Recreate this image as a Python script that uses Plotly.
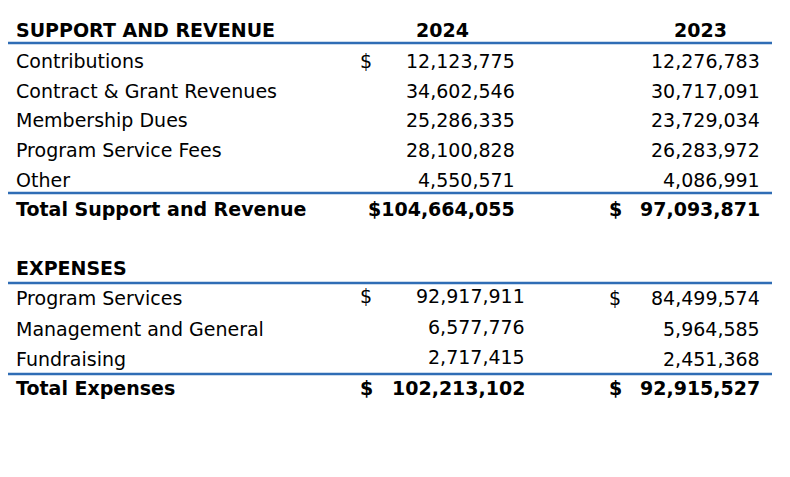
import plotly.graph_objects as go

years = ["2024", "2023"]
rev_labels = ["Contributions", "Contract & Grant Revenues", "Membership Dues", "Program Service Fees", "Other"]
rev_2024 = [12123775, 34602546, 25286335, 28100828, 4550571]
rev_2023 = [12276783, 30717091, 23729034, 26283972, 4086991]
rev_total = [104664055, 97093871]
exp_labels = ["Program Services", "Management and General", "Fundraising"]
exp_2024 = [92917911, 6577776, 2717415]
exp_2023 = [84499574, 5964585, 2451368]
exp_total = [102213102, 92915527]

FONT = "DejaVu Sans"
FS = 19
BLUE = "#2f6db5"
OFF = 8  # page body margin
fig = go.Figure()
ann = []

def t(x, y, s, anchor="left", bold=False):
    ann.append(dict(x=x - OFF, y=y - OFF, xref="x", yref="y", text=f"<b>{s}</b>" if bold else s,
                    showarrow=False, xanchor=anchor, yanchor="middle",
                    font=dict(family=FONT, size=FS, color="black")))

fmt = lambda v: f"{v:,}"

t(14, 30, "SUPPORT AND REVENUE", bold=True)
t(442, 30, years[0], "center", True)
t(700, 30, years[1], "center", True)
ys = [61, 91, 120, 150, 180]
for i, (lab, a, b) in enumerate(zip(rev_labels, rev_2024, rev_2023)):
    t(14, ys[i], lab)
    t(517, ys[i], fmt(a), "right")
    t(762, ys[i], fmt(b), "right")
    if i == 0:
        t(358, ys[i], "$")
t(14, 209, "Total Support and Revenue", bold=True)
t(517, 209, "$" + fmt(rev_total[0]), "right", True)
t(762, 209, fmt(rev_total[1]), "right", True)
t(607, 209, "$", bold=True)

t(14, 268, "EXPENSES", bold=True)
ye = [296, 327, 357]
for i, (lab, a, b) in enumerate(zip(exp_labels, exp_2024, exp_2023)):
    t(14, ye[i] + 2, lab)
    t(527, ye[i], fmt(a), "right")
    t(762, ye[i] + 2, fmt(b), "right")
    if i == 0:
        t(358, ye[i], "$")
        t(607, ye[i] + 2, "$")
t(14, 388, "Total Expenses", bold=True)
t(527, 388, fmt(exp_total[0]), "right", True)
t(358, 388, "$", bold=True)
t(762, 388, fmt(exp_total[1]), "right", True)
t(607, 388, "$", bold=True)

shapes = [dict(type="line", xref="x", yref="y", x0=8 - OFF, x1=772 - OFF, y0=y - OFF, y1=y - OFF,
               line=dict(color=BLUE, width=2.5)) for y in (43, 193, 283, 374)]

fig.update_layout(width=790, height=477, margin=dict(l=0, r=0, t=0, b=0),
                  paper_bgcolor="white", plot_bgcolor="white",
                  annotations=ann, shapes=shapes, showlegend=False,
                  xaxis=dict(range=[0, 790], visible=False, fixedrange=True),
                  yaxis=dict(range=[477, 0], visible=False, fixedrange=True))
fig.write_html("out.html")
